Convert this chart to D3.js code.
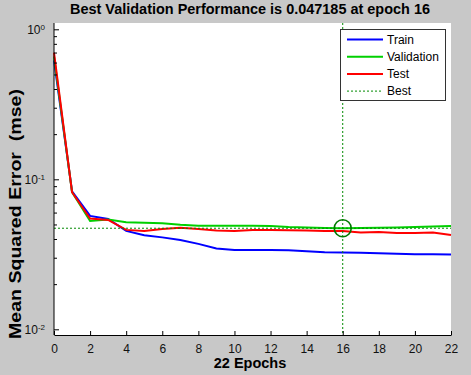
<!DOCTYPE html>
<html><head><meta charset="utf-8">
<script src="https://cdn.jsdelivr.net/npm/d3@7/dist/d3.min.js"></script>
<style>
html,body{margin:0;padding:0;background:#c8c8c8;}
svg{display:block;font-family:"Liberation Sans",Arial,sans-serif;}
</style></head><body>
<svg id="chart" width="471" height="375"></svg>
<script>
const epochs = d3.range(0, 23);
const train = [0.62, 0.083, 0.0570, 0.0544, 0.0453, 0.0424, 0.0410, 0.0394, 0.0371, 0.0346, 0.0338, 0.0338, 0.0338, 0.0337, 0.0331, 0.0326, 0.0325, 0.0324, 0.0321, 0.0319, 0.0316, 0.0316, 0.0315];
const validation = [0.66, 0.082, 0.0527, 0.0540, 0.0518, 0.0514, 0.0510, 0.0497, 0.0490, 0.0491, 0.0490, 0.0491, 0.0489, 0.0481, 0.0478, 0.0474, 0.047185, 0.0473, 0.0475, 0.0477, 0.0480, 0.0485, 0.0488];
const test = [0.70, 0.082, 0.0548, 0.0536, 0.0460, 0.0452, 0.0466, 0.0476, 0.0467, 0.0456, 0.0453, 0.0460, 0.0460, 0.0458, 0.0455, 0.0453, 0.0453, 0.0442, 0.0445, 0.0439, 0.0438, 0.0442, 0.0426];
const bestEpoch = 16;
const bestValue = 0.047185;
const xTicks = d3.range(0, 23, 2);
const yMajor = [0.01, 0.1, 1];
const legendItems = ["Train", "Validation", "Test", "Best"];
const titleText = "Best Validation Performance is 0.047185 at epoch 16";
const xLabel = "22 Epochs";
const yLabel = "Mean Squared Error  (mse)";

const svg = d3.select("#chart");
const L = 54, R = 451, T = 23, B = 335;
const x = d3.scaleLinear().domain([0, 22]).range([L, R]);
const y = d3.scaleLog().domain([Math.pow(10, -2.038), Math.pow(10, 0.042)]).range([B, T]);

svg.append("rect").attr("width", 471).attr("height", 375).attr("fill", "#c8c8c8");
svg.append("rect").attr("x", L).attr("y", T).attr("width", R - L).attr("height", B - T).attr("fill", "#fff");

const line = d3.line().x((d, i) => x(epochs[i])).y(d => y(d));
const series = [[train, "#0000ff"], [validation, "#00d000"], [test, "#ff0000"]];
series.forEach(([vals, c]) => {
  svg.append("path").attr("d", line(vals)).attr("fill", "none").attr("stroke", c).attr("stroke-width", 2);
});

// best lines
svg.append("line").attr("x1", L).attr("x2", R).attr("y1", y(bestValue)).attr("y2", y(bestValue))
  .attr("stroke", "#008a00").attr("stroke-width", 1).attr("stroke-dasharray", "2,2");
svg.append("line").attr("x1", x(bestEpoch)).attr("x2", x(bestEpoch)).attr("y1", T).attr("y2", B)
  .attr("stroke", "#008a00").attr("stroke-width", 1).attr("stroke-dasharray", "2,2");
svg.append("circle").attr("cx", x(bestEpoch)).attr("cy", y(bestValue)).attr("r", 8.5)
  .attr("fill", "none").attr("stroke", "#007a00").attr("stroke-width", 1.6);

// axes
const xAxis = d3.axisBottom(x).tickValues(xTicks).tickSizeInner(-4).tickSizeOuter(0).tickPadding(9);
const gx = svg.append("g").attr("transform", `translate(0,${B})`).call(xAxis);
gx.select(".domain").attr("stroke", "#000");
gx.selectAll(".tick line").attr("stroke", "#000");
gx.selectAll(".tick text").attr("font-size", 12).attr("fill", "#111").attr("font-family", "Liberation Sans, Arial, sans-serif");

const minor = [];
[0.01, 0.1].forEach(b => { for (let k = 2; k <= 9; k++) minor.push(b * k); });
const yAxisMinor = d3.axisLeft(y).tickValues(minor).tickSizeInner(-3).tickSizeOuter(0).tickFormat("");
const gym = svg.append("g").attr("transform", `translate(${L},0)`).call(yAxisMinor);
gym.select(".domain").remove();
gym.selectAll(".tick line").attr("stroke", "#000");
const yAxis = d3.axisLeft(y).tickValues(yMajor).tickSizeInner(-5).tickSizeOuter(0).tickFormat("");
const gy = svg.append("g").attr("transform", `translate(${L},0)`).call(yAxis);
gy.select(".domain").attr("stroke", "#000").attr("d", `M0,${T}V${B}`);
gy.selectAll(".tick line").attr("stroke", "#000");
gy.selectAll(".tick").each(function(d) {
  const t = d3.select(this).append("text").attr("x", -9).attr("dy", "0.35em")
    .attr("text-anchor", "end").attr("font-size", 12).attr("fill", "#111");
  t.append("tspan").text("10");
  t.append("tspan").attr("dy", "-0.55em").attr("font-size", 8).text(String(Math.round(Math.log10(d))));
});

// titles
svg.append("text").attr("x", 250).attr("y", 14).attr("text-anchor", "middle")
  .attr("font-size", 14).attr("font-weight", "bold").attr("fill", "#000")
  .attr("textLength", 360).attr("lengthAdjust", "spacingAndGlyphs").text(titleText);
svg.append("text").attr("x", 250).attr("y", 368).attr("text-anchor", "middle")
  .attr("font-size", 14.5).attr("font-weight", "bold").attr("fill", "#000").text(xLabel);
svg.append("text").attr("transform", "translate(21,214) rotate(-90)").attr("text-anchor", "middle")
  .style("white-space", "pre")
  .attr("font-size", 16).attr("font-weight", "bold").attr("fill", "#000")
  .attr("textLength", 250).attr("lengthAdjust", "spacingAndGlyphs").text(yLabel);

// legend
const lg = svg.append("g");
lg.append("rect").attr("x", 340.5).attr("y", 29.5).attr("width", 105).attr("height", 71)
  .attr("fill", "#fff").attr("stroke", "#333").attr("stroke-width", 1);
const lstyles = [["#0000ff", 2, null], ["#00d000", 2, null], ["#ff0000", 2, null], ["#008a00", 1, "2,2"]];
legendItems.forEach((name, i) => {
  const yy = 39.5 + i * 17.2;
  const ln = lg.append("line").attr("x1", 347).attr("x2", 383).attr("y1", yy).attr("y2", yy)
    .attr("stroke", lstyles[i][0]).attr("stroke-width", lstyles[i][1]);
  if (lstyles[i][2]) ln.attr("stroke-dasharray", lstyles[i][2]);
  lg.append("text").attr("x", 387).attr("y", yy).attr("dy", "0.36em").attr("font-size", 12)
    .attr("fill", "#000").text(name);
});
</script>
</body></html>
